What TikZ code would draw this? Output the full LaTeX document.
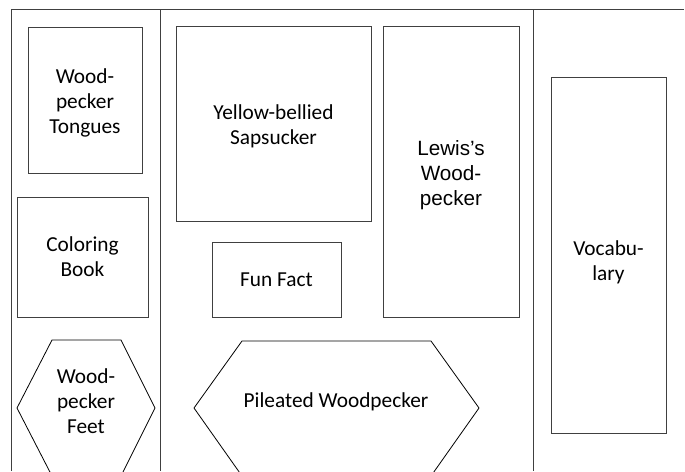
\documentclass[tikz,border=0pt]{standalone}
\usepackage{fontspec}
\setmainfont{Carlito}
\newfontfamily\arialfont{Liberation Sans}
\usetikzlibrary{fit}
\definecolor{linegray}{HTML}{404040}

\begin{document}
\begin{tikzpicture}[
    x=0.75pt, y=-0.75pt,
    frame/.style={draw=linegray, line width=0.75pt},
    panel/.style={rectangle, draw=linegray, line width=0.75pt, inner sep=0pt},
    hexa/.style={draw=black, line width=0.6pt},
    label/.style={align=center, inner sep=0pt, font=\fontsize{16}{18.8}\selectfont},
]
\useasboundingbox (0,0) rectangle (685,471);
\clip (0,0) rectangle (685,471);

% Page frame and column dividers
\draw[frame] (11,471) -- (11,9) -- (684,9);
\draw[frame] (160,9) -- (160,471);
\draw[frame] (533,9) -- (533,471);

% Left column
\node[panel, fit={(28,27) (142,173)}] (tongues) {};
\node[label, yshift=-2.5pt] (tonguestext) at (tongues) {Wood-\\pecker\\Tongues};
\node[panel, fit={(17,197) (148,317)}] (coloring) {};
\node[label] (coloringtext) at (coloring) {Coloring\\Book};
\draw[hexa] (17,408) -- (52,340) -- (121,340) -- (155,408) -- (121,476) -- (52,476) -- cycle;
\node[label] (feet) at (86,401) {Wood-\\pecker\\Feet};

% Middle column
\node[panel, fit={(176,26) (371,221)}] (sapsucker) {};
\node[label, yshift=-2.25pt] (sapsuckertext) at (sapsucker) {Yellow-bellied\\Sapsucker};
\node[panel, fit={(383,26) (519,317)}] (lewis) {};
\node[label, yshift=-2.5pt, font=\arialfont\fontsize{15.5}{18.8}\selectfont] (lewistext) at (lewis) {Lewis’s\\Wood-\\pecker};
\node[panel, fit={(212,242) (341,317)}] (funfact) {};
\node[label] (funfacttext) at (funfact) {Fun Fact};
\draw[hexa] (194,408) -- (242,341) -- (431,341) -- (479,408) -- (431,476) -- (242,476) -- cycle;
\node[label] (pileated) at (336,402) {Pileated Woodpecker};

% Right column
\node[panel, fit={(551,77) (666,433)}] (vocab) {};
\node[label, yshift=-5.5pt] (vocabtext) at (vocab) {Vocabu-\\lary};

\end{tikzpicture}
\end{document}
